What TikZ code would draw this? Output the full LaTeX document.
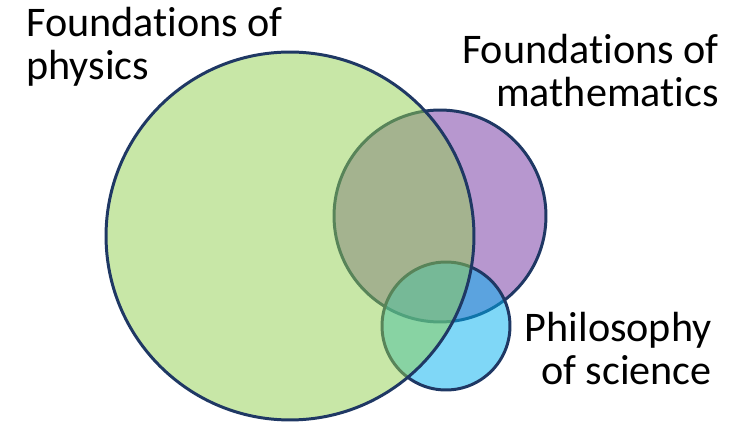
\documentclass[tikz,border=0pt]{standalone}
\usepackage{fontspec}
\setmainfont{Carlito}[Ligatures=NoCommon]
\usepackage{xcolor}
\usepackage{tikz}
\usetikzlibrary{positioning}
\definecolor{setline}{HTML}{1F3864}
\definecolor{physgreen}{HTML}{92D050}
\definecolor{mathpurple}{HTML}{7030A0}
\definecolor{philblue}{HTML}{00B0F0}
\tikzset{
  setcircle/.style={circle,draw=setline,line width=1.7pt,inner sep=0pt,
    fill opacity=0.5,draw opacity=1},
  setlabel/.style={inner sep=0pt,font=\fontsize{24}{24.5}\selectfont}
}
\begin{document}
\begin{tikzpicture}[x=0.02cm,y=-0.02cm]
  \useasboundingbox (0,0) rectangle (750,425);
  % sets, back to front
  \node[setcircle, fill=mathpurple, minimum size=4.24cm] (maths) at (440,216) {};
  \node[setcircle, fill=philblue, minimum size=2.56cm] (philsci) at (446,326) {};
  \node[setcircle, fill=physgreen, minimum size=7.36cm] (physics) at (290,236) {};

  \node[setlabel, align=left, anchor=north west] (physlbl) at (26,7)
    {Foundations of\\physics};
  \node[setlabel, align=right, anchor=north east] (mathlbl) at (719,34)
    {Foundations of\\mathematics};
  \node[setlabel, align=right, anchor=north east] (phillbl) at (712,312)
    {Philosophy\\of science};
\end{tikzpicture}
\end{document}
